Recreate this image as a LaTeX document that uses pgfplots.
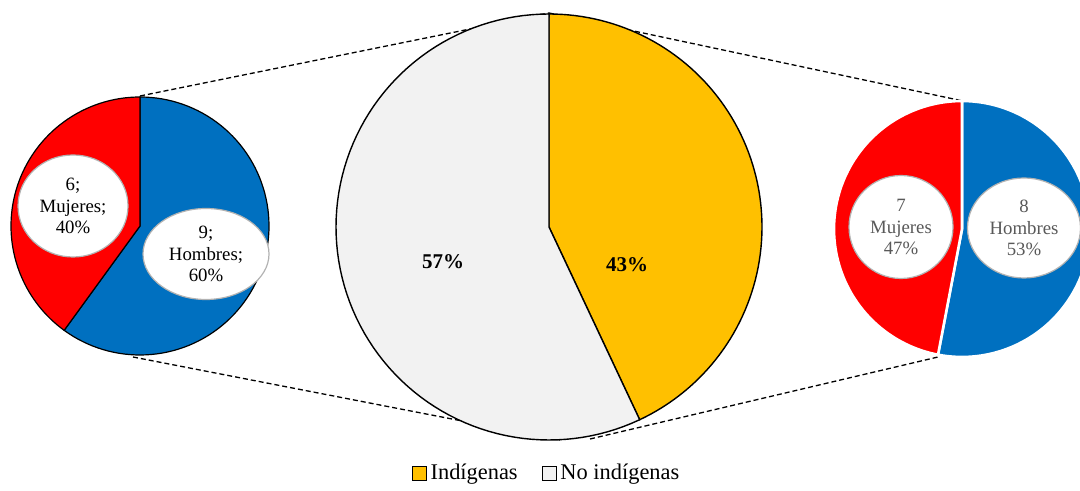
\documentclass[border=0pt]{standalone}
\usepackage{fontspec}
\setmainfont{Liberation Serif}
\usepackage{pgfplots}
\pgfplotsset{compat=1.18}
\usetikzlibrary{shapes.geometric}
\definecolor{cblue}{HTML}{0070C0}
\definecolor{cred}{HTML}{FF0000}
\definecolor{cyel}{HTML}{FFC000}
\definecolor{cgray}{HTML}{F2F2F2}
\definecolor{ltxt}{HTML}{595959}

% shares (percent)
\def\pInd{43}   % Indigenas
\def\pLH{60}    % left pie: Hombres
\def\pRH{53}    % right pie: Hombres

% slice: cx, cy, r, start, end, style
\newcommand{\slice}[6]{%
  \addplot[#6, domain=#4:#5, samples=90, variable=\t]
    ({#1+#3*cos(t)},{#2+#3*sin(t)}) -- (axis cs:#1,#2) -- cycle;}

\tikzset{
  lab/.style={ellipse, draw=black!30, line width=0.6pt, fill=white, align=center,
              font=\fontsize{9.4}{10.8}\selectfont, inner sep=0pt},
  conn/.style={black, line width=0.65pt, dash pattern=on 2.5pt off 1.5pt},
}

\begin{document}
\begin{tikzpicture}
\begin{axis}[scale only axis, width=540pt, height=245.5pt,
  xmin=0, xmax=1080, ymin=0, ymax=491, hide axis, clip=true,
  legend style={at={(0.507,0.0)}, anchor=south, draw=none, legend columns=2,
    font=\fontsize{11.2}{12}\selectfont, /tikz/every even column/.append style={column sep=10pt}},
  legend image code/.code={\draw[#1] (0pt,-3.5pt) rectangle (7pt,3.5pt);}]
\addlegendimage{fill=cyel, draw=black}
\addlegendentry{Indígenas}
\addlegendimage{fill=cgray, draw=black}
\addlegendentry{No indígenas}

% connectors
\addplot[conn] coordinates {(140,395) (549,478)};
\addplot[conn] coordinates {(133,134) (560,51)};
\addplot[conn] coordinates {(549,478) (963,390)};
\addplot[conn] coordinates {(590,52) (938,134)};

% centre pie
\pgfmathsetmacro{\a}{90-3.6*\pInd}
\slice{549}{264}{213}{\a}{90}{fill=cyel, draw=black, line width=0.7pt}
\slice{549}{264}{213}{-270}{\a}{fill=cgray, draw=black, line width=0.7pt}

% left pie
\pgfmathsetmacro{\b}{90-3.6*\pLH}
\slice{140}{265}{129}{\b}{90}{fill=cblue, draw=black, line width=0.6pt}
\slice{140}{265}{129}{-270}{\b}{fill=cred, draw=black, line width=0.6pt}

% right pie
\pgfmathsetmacro{\c}{90-3.6*\pRH}
\slice{962}{262}{128}{\c}{90}{fill=cblue, draw=white, line width=1.3pt}
\slice{962}{262}{128}{-270}{\c}{fill=cred, draw=white, line width=1.3pt}

% labels
\node[font=\bfseries\fontsize{10.5}{12}\selectfont] at (axis cs:443,229) {57\%};
\node[font=\bfseries\fontsize{10.5}{12}\selectfont] at (axis cs:627,226) {43\%};
\node[lab, minimum width=55pt, minimum height=51pt] at (axis cs:73,285) {6;\\Mujeres;\\40\%};
\node[lab, minimum width=63pt, minimum height=45.5pt] at (axis cs:206,237) {9;\\Hombres;\\60\%};
\node[lab, text=ltxt, minimum width=52pt, minimum height=51.5pt] at (axis cs:901,264) {7\\Mujeres\\47\%};
\node[lab, text=ltxt, minimum width=56.5pt, minimum height=50pt] at (axis cs:1024,263) {8\\Hombres\\53\%};
\end{axis}
\pgfresetboundingbox
\path (current axis.south west) rectangle (current axis.north east);
\end{tikzpicture}
\end{document}
